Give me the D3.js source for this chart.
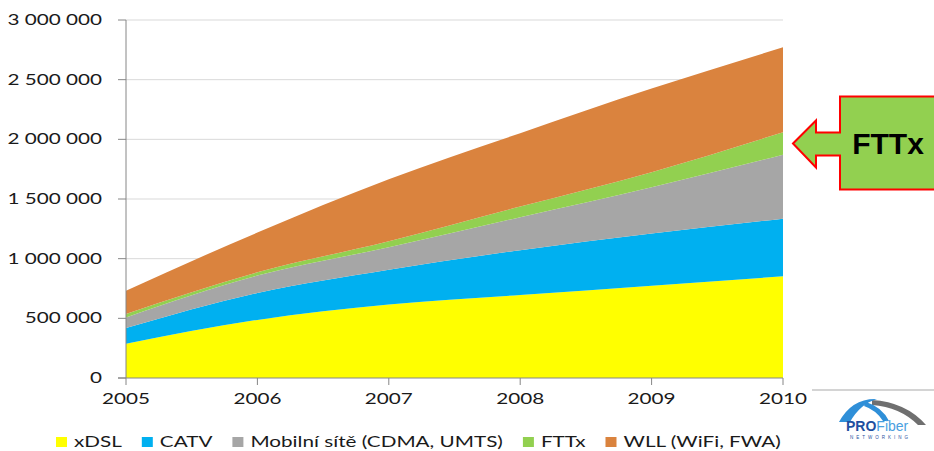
<!DOCTYPE html>
<html><head><meta charset="utf-8">
<script src="https://cdn.jsdelivr.net/npm/d3@7"></script>
<style>
html,body{margin:0;padding:0;background:#fff;}
svg{display:block;}
text{font-family:Lato,"Open Sans",sans-serif;fill:#1a1a1a;}
</style></head><body>
<svg id="c" width="934" height="451"></svg>
<script>
const years = [2005, 2006, 2007, 2008, 2009, 2010];
const seriesNames = ["xDSL", "CATV", "Mobilní sítě (CDMA, UMTS)", "FTTx", "WLL (WiFi, FWA)"];
const xDSL   = [288000, 487000, 615000, 696000, 774000, 852000];
const CATV   = [131000, 226000, 293000, 375000, 437000, 482000];
const mobile = [89000, 145000, 188000, 277000, 388000, 537000];
const FTTx   = [29000, 28000, 50000, 89000, 126000, 189000];
const WLL    = [195000, 333000, 519000, 615000, 700000, 711000];
const colors = ["#FFFF00", "#00B0F0", "#A6A6A6", "#92D050", "#DA833E"];
const yTicks = [0, 500000, 1000000, 1500000, 2000000, 2500000, 3000000];
const calloutLabel = "FTTx";

const SX = 1.38; // horizontal stretch of text in the reference
const svg = d3.select("#c");
const x = d3.scaleLinear().domain([2005, 2010]).range([126, 783]);
const y = d3.scaleLinear().domain([0, 3000000]).range([378, 20]);

function txt(g, px, py, s, anchor, size, extra) {
  const t = g.append("text")
    .attr("transform", `translate(${px},${py}) scale(${SX},1)`)
    .attr("text-anchor", anchor || "start")
    .style("font-size", (size || 15) + "px")
    .text(s);
  if (extra) extra(t);
  return t;
}

// gridlines
svg.append("g").selectAll("line").data(yTicks.slice(1)).join("line")
  .attr("x1", x(2005)).attr("x2", x(2010))
  .attr("y1", d => y(d)).attr("y2", d => y(d))
  .attr("stroke", "#D9D9D9").attr("stroke-width", 1);

// stacked data
const rows = years.map((yr, i) => ({year: yr, s0: xDSL[i], s1: CATV[i], s2: mobile[i], s3: FTTx[i], s4: WLL[i]}));
const stack = d3.stack().keys(["s0", "s1", "s2", "s3", "s4"]);
const layers = stack(rows);
const area = d3.area()
  .x(d => x(d.data.year))
  .y0(d => y(d[0])).y1(d => y(d[1]))
  .curve(d3.curveMonotoneX);
svg.append("g").selectAll("path").data(layers).join("path")
  .attr("d", area).attr("fill", (d, i) => colors[i]);

// axes
const ax = svg.append("g").attr("stroke", "#868686").attr("stroke-width", 1);
ax.append("line").attr("x1", x(2005)).attr("x2", x(2005)).attr("y1", y(3000000)).attr("y2", y(0));
ax.append("line").attr("x1", x(2005) - 8).attr("x2", x(2010)).attr("y1", y(0)).attr("y2", y(0));
ax.selectAll(".yt").data(yTicks).join("line").attr("class", "yt")
  .attr("x1", x(2005) - 8).attr("x2", x(2005)).attr("y1", d => y(d)).attr("y2", d => y(d));
ax.selectAll(".xt").data(years).join("line").attr("class", "xt")
  .attr("x1", d => x(d)).attr("x2", d => x(d)).attr("y1", y(0)).attr("y2", y(0) + 7);

const fmt = v => d3.format(",")(v).replace(/,/g, " ");
const tg = svg.append("g");
yTicks.forEach(v => txt(tg, 102, y(v) + 5, fmt(v), "end", 15));
years.forEach(v => txt(tg, x(v), 404, String(v), "middle", 15));

// legend
const lg = svg.append("g");
let cx = 56;
seriesNames.forEach((n, i) => {
  lg.append("rect").attr("x", cx).attr("y", 437).attr("width", 11).attr("height", 10).attr("fill", colors[i]);
  const t = txt(lg, cx + 18, 447, n, "start", 15);
  const w = t.node().getComputedTextLength() * SX;
  cx += 18 + w + 20;
});

// callout arrow pointing to FTTx layer at 2010
const last = layers[3][years.length - 1];
const tipX = x(2010) + 10, tipY = y((last[0] + last[1]) / 2);
const ar = d3.path();
ar.moveTo(tipX, tipY);
ar.lineTo(tipX + 23, tipY - 23);
ar.lineTo(tipX + 23, tipY - 11);
ar.lineTo(tipX + 47, tipY - 11);
ar.lineTo(tipX + 47, tipY - 47);
ar.lineTo(960, tipY - 47);
ar.lineTo(960, tipY + 46);
ar.lineTo(tipX + 47, tipY + 46);
ar.lineTo(tipX + 47, tipY + 12);
ar.lineTo(tipX + 23, tipY + 12);
ar.lineTo(tipX + 23, tipY + 24);
ar.closePath();
svg.append("path").attr("d", ar.toString()).attr("fill", "#92D050")
  .attr("stroke", "#FF0000").attr("stroke-width", 2).attr("stroke-linejoin", "miter");
svg.append("text").attr("x", tipX + 95).attr("y", tipY + 11).attr("text-anchor", "middle")
  .style("font-family", "'Liberation Sans',Arial,sans-serif").style("font-weight", "bold")
  .style("font-size", "30px").style("fill", "#000").text(calloutLabel);

// logo (approximation)
const logo = svg.append("g");
logo.append("line").attr("x1", 812).attr("x2", 934).attr("y1", 390).attr("y2", 390).attr("stroke", "#d4d4d4").attr("stroke-width", 2);
logo.append("path").attr("d", "M872,400 Q906,402 926,425 L918,425 Q900,407 872,405 Z").attr("fill", "#6f6f6f");
logo.append("path").attr("d", "M839,422 Q852,398 877,399 Q860,404 850,422 Z").attr("fill", "#2f8fd8");
logo.append("path").attr("d", "M866,402 Q882,407 889,421 L883,421 Q876,410 864,406 Z").attr("fill", "#2f8fd8");
logo.append("text").attr("x", 846).attr("y", 431).style("font-family", "'Liberation Sans',Arial,sans-serif")
  .style("font-size", "14px").style("font-weight", "bold").style("fill", "#1f4fa0")
  .html('PRO<tspan style="font-weight:normal;fill:#4aa0e0">Fiber</tspan>');
logo.append("text").attr("x", 850).attr("y", 439).style("font-family", "'Liberation Sans',Arial,sans-serif")
  .style("font-size", "4.5px").style("letter-spacing", "3px").style("fill", "#1f4fa0").text("NETWORKING");
</script>
</body></html>
